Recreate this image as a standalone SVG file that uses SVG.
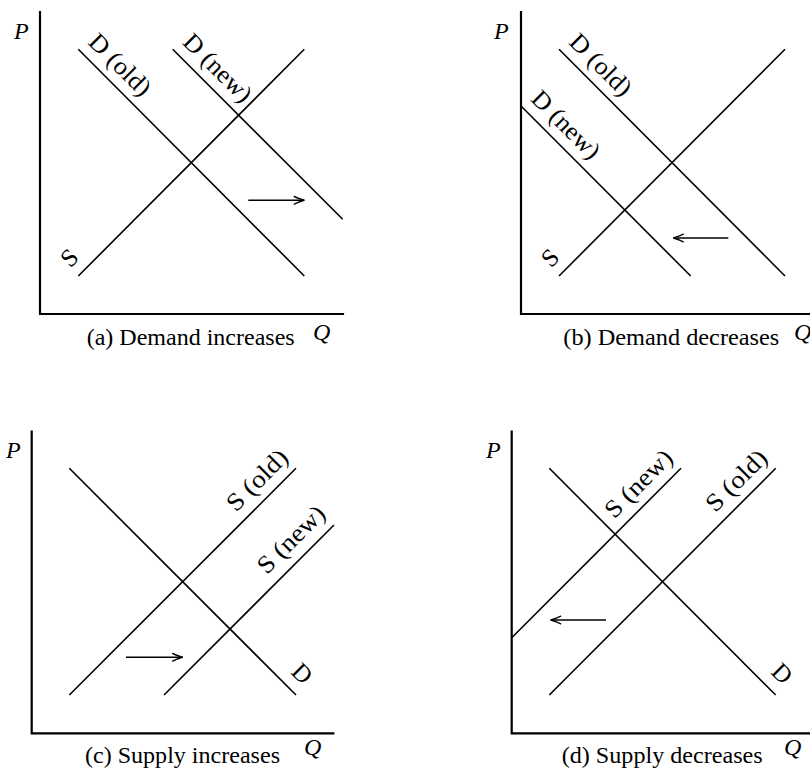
<svg xmlns="http://www.w3.org/2000/svg" width="810" height="770" viewBox="0 0 810 770">
<style>
.axis{fill:none;stroke:#000;stroke-width:2.2;stroke-linecap:square}
.curve{fill:none;stroke:#000;stroke-width:1.6}
.shift{fill:none;stroke:#000;stroke-width:1.5;marker-end:url(#head)}
text{font-family:"Liberation Serif","DejaVu Serif","Times New Roman",serif;fill:#000}
.lbl{font-size:25px}
.cap{font-size:24px}
.var{font-style:italic;font-size:24px}
</style>
<defs>
<marker id="head" markerUnits="userSpaceOnUse" markerWidth="12" markerHeight="10" refX="0" refY="0" viewBox="-11 -5 12 10" orient="auto" overflow="visible">
<path d="M-10,-3.8 Q-3,-0.7 0,0 Q-3,0.7 -10,3.8" fill="none" stroke="#000" stroke-width="1.4" stroke-linecap="round"/>
</marker>
</defs>
<rect width="810" height="770" fill="#fff"/>

<g id="panel-a">
<path class="axis" d="M40,12 V314 H343"/>
<g id="connectors-a">
<line class="curve" x1="78.3" y1="49.3" x2="304.3" y2="276"/>
<line class="curve" x1="172.7" y1="49.3" x2="342.7" y2="219.3"/>
<line class="curve" x1="78.3" y1="276" x2="304.3" y2="49.3"/>
<line class="shift" x1="248.3" y1="200.3" x2="304.3" y2="200.3"/>
</g>
<text class="lbl" font-family="Liberation Serif, serif" transform="translate(87.1,43.3) rotate(45)" textLength="77" lengthAdjust="spacingAndGlyphs">D (old)</text>
<text class="lbl" font-family="Liberation Serif, serif" transform="translate(181.5,43.3) rotate(45)" textLength="86" lengthAdjust="spacingAndGlyphs">D (new)</text>
<text class="lbl" font-family="Liberation Serif, serif" transform="translate(70.2,268.6) rotate(-45)">S</text>
<text class="var" font-family="Liberation Serif, serif" x="14" y="39">P</text>
<text class="var" font-family="Liberation Serif, serif" x="313" y="340">Q</text>
<text class="cap" font-family="Liberation Serif, serif" x="86.7" y="345" textLength="208" lengthAdjust="spacingAndGlyphs">(a) Demand increases</text>
</g>

<g id="panel-b">
<path class="axis" d="M521,12 V314 H824"/>
<g id="connectors-b">
<line class="curve" x1="559" y1="49.3" x2="785" y2="276"/>
<line class="curve" x1="521" y1="106" x2="690.7" y2="276"/>
<line class="curve" x1="559" y1="276" x2="785" y2="49.3"/>
<line class="shift" x1="728.3" y1="238" x2="673.3" y2="238"/>
</g>
<text class="lbl" font-family="Liberation Serif, serif" transform="translate(567.8,43.3) rotate(45)" textLength="77" lengthAdjust="spacingAndGlyphs">D (old)</text>
<text class="lbl" font-family="Liberation Serif, serif" transform="translate(529.8,100) rotate(45)" textLength="86" lengthAdjust="spacingAndGlyphs">D (new)</text>
<text class="lbl" font-family="Liberation Serif, serif" transform="translate(550.9,268.6) rotate(-45)">S</text>
<text class="var" font-family="Liberation Serif, serif" x="494" y="39">P</text>
<text class="var" font-family="Liberation Serif, serif" x="794" y="340">Q</text>
<text class="cap" font-family="Liberation Serif, serif" x="563.3" y="345" textLength="216" lengthAdjust="spacingAndGlyphs">(b) Demand decreases</text>
</g>

<g id="panel-c">
<path class="axis" d="M31.7,431.7 V733.3 H333.3"/>
<g id="connectors-c">
<line class="curve" x1="69.3" y1="468.3" x2="296" y2="695"/>
<line class="curve" x1="69.3" y1="695" x2="296" y2="468.3"/>
<line class="curve" x1="164" y1="695" x2="334" y2="525"/>
<line class="shift" x1="126" y1="657.3" x2="182.7" y2="657.3"/>
</g>
<text class="lbl" font-family="Liberation Serif, serif" transform="translate(235.9,512.8) rotate(-45)" textLength="76" lengthAdjust="spacingAndGlyphs">S (old)</text>
<text class="lbl" font-family="Liberation Serif, serif" transform="translate(266.8,575.2) rotate(-45)" textLength="85" lengthAdjust="spacingAndGlyphs">S (new)</text>
<text class="lbl" font-family="Liberation Serif, serif" transform="translate(290,673) rotate(45)">D</text>
<text class="var" font-family="Liberation Serif, serif" x="6" y="458">P</text>
<text class="var" font-family="Liberation Serif, serif" x="304" y="755">Q</text>
<text class="cap" font-family="Liberation Serif, serif" x="85" y="763" textLength="195" lengthAdjust="spacingAndGlyphs">(c) Supply increases</text>
</g>

<g id="panel-d">
<path class="axis" d="M511.7,431.7 V733.3 H813.3"/>
<g id="connectors-d">
<line class="curve" x1="549.3" y1="468.3" x2="775.7" y2="695"/>
<line class="curve" x1="549.3" y1="695" x2="775.7" y2="468.3"/>
<line class="curve" x1="511.7" y1="637.7" x2="681" y2="468.3"/>
<line class="shift" x1="606" y1="620" x2="550.7" y2="620"/>
</g>
<text class="lbl" font-family="Liberation Serif, serif" transform="translate(614.2,519.5) rotate(-45)" textLength="85" lengthAdjust="spacingAndGlyphs">S (new)</text>
<text class="lbl" font-family="Liberation Serif, serif" transform="translate(715.2,513.2) rotate(-45)" textLength="76" lengthAdjust="spacingAndGlyphs">S (old)</text>
<text class="lbl" font-family="Liberation Serif, serif" transform="translate(770,673) rotate(45)">D</text>
<text class="var" font-family="Liberation Serif, serif" x="486" y="458">P</text>
<text class="var" font-family="Liberation Serif, serif" x="784" y="755">Q</text>
<text class="cap" font-family="Liberation Serif, serif" x="561.7" y="763" textLength="201" lengthAdjust="spacingAndGlyphs">(d) Supply decreases</text>
</g>
</svg>
